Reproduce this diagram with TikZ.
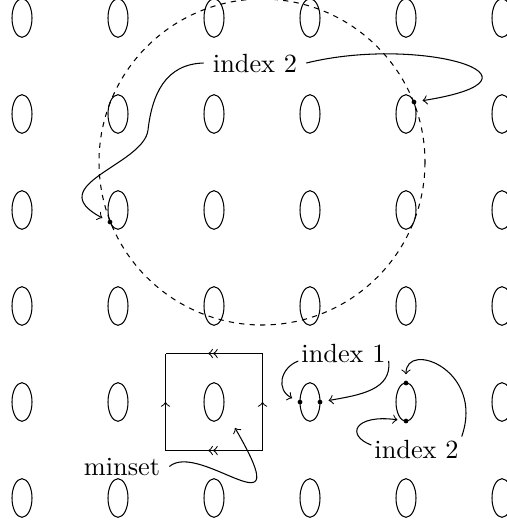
\documentclass[tikz,border=0pt]{standalone}
\usetikzlibrary{decorations.markings}
\begin{document}
\begin{tikzpicture}[x=0.38pt,y=-0.38pt,line width=0.4pt,
  lbl/.style={anchor=base,inner sep=3.33pt},
  tightlbl/.style={anchor=base,inner sep=1pt},
  dot/.style={circle,fill=black,inner sep=0pt,minimum size=1.8pt},
  conn/.style={->,shorten >=2.2pt},
  single/.style={postaction={decorate,decoration={markings,
      mark=at position 0.5 with {\arrow{>}}}}},
  double/.style={postaction={decorate,decoration={markings,
      mark=at position 0.56 with {\arrow{>>}}}}}]
\clip (0,0) rectangle (507,524);

% lattice of small ellipses
\foreach \i in {0,...,5}
  \foreach \j in {0,...,5}
    \draw (22+96*\i,18+96*\j) ellipse [x radius=10, y radius=19.3];

% dashed circle
\draw[dash pattern=on 2pt off 2pt] (262,162) circle [radius=163];

% marked points
\node[dot] (dA) at (110,222) {};
\node[dot] (dB) at (414,102) {};
\node[dot] (dC) at (300,402) {};
\node[dot] (dD) at (320,402) {};
\node[dot] (dE) at (406,383) {};
\node[dot] (dF) at (406,421) {};

% fundamental square with edge identifications
\coordinate (sqNW) at (165.5,353.5);
\coordinate (sqNE) at (262.5,353.5);
\coordinate (sqSE) at (262.5,450.5);
\coordinate (sqSW) at (165.5,450.5);
\draw[double] (sqNE) -- (sqNW);
\draw[double] (sqSE) -- (sqSW);
\draw[single] (sqSW) -- (sqNW);
\draw[single] (sqSE) -- (sqNE);
\coordinate (mtip) at (235,428);

% labels
\node[lbl] (top2) at (255,72) {index 2};
\node[tightlbl] (idx1) at (343.5,362) {index 1};
\node[tightlbl] (idx2b) at (416.5,458) {index 2};
\node[lbl] (mset) at (122,475) {minset};

% pointers
\draw[conn] (top2.west) .. controls (165,64) and (152,95) .. (148,130)
  .. controls (144,165) and (40,185) .. (dA);
\draw[conn] (top2.east) .. controls (420,35) and (565,78) .. (dB);
\draw[conn] (idx1.190) .. controls (280,368) and (276,390) .. (dC);
\draw[conn] (idx1.-10) .. controls (392,390) and (360,395) .. (dD);
\draw[conn] (idx2b.175) .. controls (345,435) and (355,414) .. (dF);
\draw[conn] (idx2b.north east) .. controls (485,370) and (406,340) .. (dE);
\draw[->] (mset.east) .. controls (200,440) and (300,540) .. (mtip);
\end{tikzpicture}
\end{document}
